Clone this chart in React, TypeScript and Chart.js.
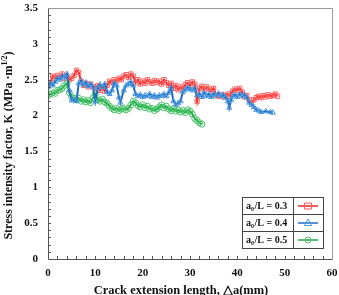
import React, { useEffect, useRef } from "react";
import { Chart, registerables } from "chart.js";

Chart.register(...registerables);

// Crack extension length (mm) and stress intensity factor K for each a0/L ratio
const crack03 = [0.5, 1, 1.5, 2, 2.5, 3, 3.5, 4, 4.5, 5, 5.5, 6, 6.5, 7, 7.5, 8, 8.5, 9, 9.5, 10, 10.5, 11, 11.5, 12, 12.5, 13, 13.5, 14, 14.5, 15, 15.5, 16, 16.5, 17, 17.5, 18, 18.5, 19, 19.5, 20, 20.5, 21, 21.5, 22, 22.5, 23, 23.5, 24, 24.5, 25, 25.5, 26, 26.5, 27, 27.5, 28, 28.5, 29, 29.5, 30, 30.5, 31, 31.5, 32, 32.5, 33, 33.5, 34, 34.5, 35, 35.5, 36, 36.5, 37, 37.5, 38, 38.5, 39, 39.5, 40, 40.5, 41, 41.5, 42, 42.5, 43, 43.5, 44, 44.5, 45, 45.5, 46, 46.5, 47, 47.5, 48, 48.5];
const k03 = [2.45, 2.55, 2.52, 2.56, 2.53, 2.58, 2.52, 2.55, 2.5, 2.52, 2.56, 2.63, 2.6, 2.48, 2.42, 2.45, 2.4, 2.44, 2.4, 2.38, 2.42, 2.35, 2.4, 2.34, 2.42, 2.48, 2.46, 2.5, 2.48, 2.52, 2.5, 2.55, 2.57, 2.53, 2.58, 2.55, 2.46, 2.5, 2.44, 2.48, 2.45, 2.5, 2.47, 2.45, 2.49, 2.46, 2.48, 2.44, 2.5, 2.46, 2.42, 2.45, 2.38, 2.42, 2.36, 2.4, 2.37, 2.43, 2.46, 2.42, 2.47, 2.44, 2.2, 2.38, 2.41, 2.36, 2.4, 2.37, 2.34, 2.38, 2.28, 2.27, 2.29, 2.26, 2.28, 2.3, 2.27, 2.34, 2.37, 2.35, 2.38, 2.33, 2.26, 2.28, 2.22, 2.18, 2.22, 2.25, 2.27, 2.25, 2.28, 2.26, 2.29, 2.27, 2.28, 2.3, 2.27];

const crack04 = [0, 0.5, 1, 1.5, 2, 2.5, 3, 3.5, 4, 4.5, 5, 5.5, 6, 6.5, 7, 7.5, 8, 8.5, 9, 9.5, 10, 10.5, 11, 11.5, 12, 12.5, 13, 13.5, 14, 14.5, 15, 15.3, 16, 16.5, 17, 17.5, 18, 18.5, 19, 19.5, 20, 20.5, 21, 21.5, 22, 22.5, 23, 23.5, 24, 24.5, 25, 25.5, 26, 26.5, 27, 27.5, 28, 28.5, 29, 29.5, 30, 30.5, 31, 31.5, 32, 32.5, 33, 33.5, 34, 34.5, 35, 35.5, 36, 36.5, 37, 37.5, 38, 38.3, 38.7, 39, 39.5, 40, 40.5, 41, 41.5, 42, 42.5, 43, 43.5, 44, 44.5, 45, 46, 47, 47.5];
const k04 = [2.4, 2.45, 2.42, 2.47, 2.52, 2.5, 2.55, 2.53, 2.58, 2.35, 2.21, 2.22, 2.2, 2.45, 2.48, 2.43, 2.46, 2.41, 2.44, 2.4, 2.2, 2.38, 2.43, 2.4, 2.44, 2.33, 2.3, 2.35, 2.45, 2.42, 2.25, 2.18, 2.35, 2.42, 2.44, 2.47, 2.42, 2.3, 2.27, 2.29, 2.26, 2.28, 2.27, 2.3, 2.26, 2.28, 2.25, 2.28, 2.27, 2.3, 2.27, 2.32, 2.39, 2.2, 2.15, 2.17, 2.2, 2.33, 2.36, 2.39, 2.37, 2.35, 2.38, 2.28, 2.3, 2.26, 2.32, 2.27, 2.3, 2.26, 2.3, 2.28, 2.31, 2.27, 2.29, 2.25, 2.2, 2.11, 2.22, 2.27, 2.29, 2.26, 2.3, 2.27, 2.29, 2.25, 2.18, 2.15, 2.12, 2.08, 2.07, 2.05, 2.06, 2.05, 2.04];

const crack05 = [0, 0.5, 1, 1.5, 2, 2.5, 3, 3.5, 4, 4.5, 5, 5.5, 6, 6.5, 7, 7.5, 8, 8.5, 9, 9.5, 10, 10.5, 11, 11.5, 12, 12.5, 13, 13.5, 14, 14.5, 15, 15.5, 16, 16.5, 17, 17.5, 18, 18.5, 19, 19.5, 20, 20.5, 21, 21.5, 22, 22.5, 23, 23.5, 24, 24.5, 25, 25.5, 26, 26.5, 27, 27.5, 28, 28.5, 29, 29.5, 30, 30.5, 31, 31.5, 32, 32.5];
const k05 = [2.28, 2.3, 2.32, 2.31, 2.35, 2.36, 2.38, 2.42, 2.45, 2.32, 2.26, 2.24, 2.22, 2.24, 2.2, 2.22, 2.19, 2.21, 2.18, 2.25, 2.3, 2.22, 2.2, 2.23, 2.19, 2.17, 2.13, 2.1, 2.08, 2.1, 2.07, 2.09, 2.1, 2.08, 2.1, 2.15, 2.2, 2.18, 2.14, 2.12, 2.15, 2.11, 2.13, 2.09, 2.1, 2.07, 2.09, 2.12, 2.15, 2.11, 2.13, 2.09, 2.07, 2.1, 2.06, 2.08, 2.05, 2.07, 2.04, 2.08, 2.06, 2.02, 1.96, 1.93, 1.9, 1.88];

const ratioLabels = ["0.3", "0.4", "0.5"];
const xTickValues = [0, 10, 20, 30, 40, 50, 60];
const yTickValues = [0, 0.5, 1, 1.5, 2, 2.5, 3, 3.5];

const SERIF = "'Liberation Serif', 'Times New Roman', serif";

const seriesStyle = [
  { line: "#f02424", mark: "#ff5c5c", shape: "rect" },
  { line: "#1f6cc4", mark: "#4a98df", shape: "triangle" },
  { line: "#1fa845", mark: "#45c266", shape: "circle" },
];

const toPoints = (xs: number[], ys: number[]) => xs.map((x, i) => ({ x, y: ys[i] }));

const framePlugin = {
  id: "frameAndTicks",
  afterDatasetsDraw(chart: any) {
    const { ctx, chartArea } = chart;
    const { left, right, top, bottom } = chartArea;
    const xs = chart.scales.x;
    const ys = chart.scales.y;
    ctx.save();
    // frame
    ctx.lineWidth = 1;
    ctx.strokeStyle = "#9a9a9a";
    ctx.beginPath();
    ctx.moveTo(left + 0.5, top + 0.5);
    ctx.lineTo(right + 0.5, top + 0.5);
    ctx.lineTo(right + 0.5, bottom + 0.5);
    ctx.stroke();
    ctx.strokeStyle = "#555";
    ctx.beginPath();
    ctx.moveTo(left + 0.5, top + 0.5);
    ctx.lineTo(left + 0.5, bottom + 0.5);
    ctx.lineTo(right + 0.5, bottom + 0.5);
    ctx.stroke();
    // inward ticks
    ctx.strokeStyle = "#555";
    ctx.beginPath();
    for (let i = 1; i < 35; i++) {
      const py = Math.round(ys.getPixelForValue(i / 10)) + 0.5;
      ctx.moveTo(left, py);
      ctx.lineTo(left + 3, py);
    }
    for (let i = 1; i < 30; i++) {
      const px = Math.round(xs.getPixelForValue(i * 2)) + 0.5;
      ctx.moveTo(px, bottom);
      ctx.lineTo(px, bottom - 3);
    }
    ctx.stroke();
    ctx.restore();
  },
  afterDraw(chart: any) {
    const { ctx, chartArea } = chart;
    const { left, right, top, bottom } = chartArea;
    ctx.save();
    ctx.fillStyle = "#111";
    // x title
    ctx.font = `bold 12.5px ${SERIF}`;
    ctx.textAlign = "center";
    ctx.textBaseline = "middle";
    ctx.fillText("Crack extension length, \u25B3a(mm)", (left + right) / 2 - 9, bottom + 32);
    // y title with superscript
    const main = "Stress intensity factor, K (MPa \u00B7m";
    const sup = "1/2";
    const tail = ")";
    ctx.font = `bold 12px ${SERIF}`;
    const wMain = ctx.measureText(main).width;
    const wTail = ctx.measureText(tail).width;
    ctx.font = `bold 8px ${SERIF}`;
    const wSup = ctx.measureText(sup).width;
    const total = wMain + wSup + wTail;
    ctx.translate(9, (top + bottom) / 2 + 12);
    ctx.rotate(-Math.PI / 2);
    ctx.textAlign = "left";
    ctx.textBaseline = "middle";
    let x0 = -total / 2;
    ctx.font = `bold 12px ${SERIF}`;
    ctx.fillText(main, x0, 0);
    x0 += wMain;
    ctx.font = `bold 8px ${SERIF}`;
    ctx.fillText(sup, x0, -4);
    x0 += wSup;
    ctx.font = `bold 12px ${SERIF}`;
    ctx.fillText(tail, x0, 0);
    ctx.restore();

    // legend table
    ctx.save();
    const tRight = right - 9;
    const tBottom = bottom - 11;
    const rowH = 17;
    const w1 = 51;
    const w2 = 30;
    const tLeft = tRight - w1 - w2;
    const tTop = tBottom - rowH * 3;
    ctx.fillStyle = "#fff";
    ctx.fillRect(tLeft, tTop, w1 + w2, rowH * 3);
    ctx.strokeStyle = "#444";
    ctx.lineWidth = 1;
    ctx.strokeRect(tLeft + 0.5, tTop + 0.5, w1 + w2, rowH * 3);
    ctx.beginPath();
    for (let r = 1; r < 3; r++) {
      ctx.moveTo(tLeft, tTop + r * rowH + 0.5);
      ctx.lineTo(tRight, tTop + r * rowH + 0.5);
    }
    ctx.moveTo(tLeft + w1 + 0.5, tTop);
    ctx.lineTo(tLeft + w1 + 0.5, tBottom);
    ctx.stroke();
    ratioLabels.forEach((lab, r) => {
      const cy = tTop + r * rowH + rowH / 2 + 1;
      let cx = tLeft + 4;
      ctx.fillStyle = "#111";
      ctx.textBaseline = "middle";
      ctx.textAlign = "left";
      ctx.font = `bold 10px ${SERIF}`;
      ctx.fillText("a", cx, cy);
      cx += ctx.measureText("a").width;
      ctx.font = `bold 6px ${SERIF}`;
      ctx.fillText("0", cx, cy + 3);
      cx += ctx.measureText("0").width + 0.5;
      ctx.font = `bold 10px ${SERIF}`;
      ctx.fillText("/L = " + lab, cx, cy);
      const st = seriesStyle[r];
      const mx = tLeft + w1 + w2 / 2;
      const my = tTop + r * rowH + rowH / 2 + 0.5;
      ctx.strokeStyle = st.line;
      ctx.lineWidth = 1.5;
      ctx.beginPath();
      ctx.moveTo(mx - 10, my);
      ctx.lineTo(mx + 10, my);
      ctx.stroke();
      ctx.strokeStyle = st.mark;
      ctx.lineWidth = 1;
      ctx.beginPath();
      if (st.shape === "rect") {
        ctx.rect(mx - 3.5, my - 3, 7, 6);
      } else if (st.shape === "triangle") {
        ctx.moveTo(mx, my - 4);
        ctx.lineTo(mx + 3.5, my + 2.5);
        ctx.lineTo(mx - 3.5, my + 2.5);
        ctx.closePath();
      } else {
        ctx.arc(mx, my, 3, 0, Math.PI * 2);
      }
      ctx.stroke();
    });
    ctx.restore();
  },
};

export default function App() {
  const canvasRef = useRef<HTMLCanvasElement | null>(null);

  useEffect(() => {
    if (!canvasRef.current) return;
    const sets = [
      toPoints(crack03, k03),
      toPoints(crack04, k04),
      toPoints(crack05, k05),
    ];
    const orders = [3, 1, 2];
    const chart = new Chart(canvasRef.current, {
      type: "scatter",
      data: {
        datasets: sets.map((pts, i) => ({
          label: "a0/L = " + ratioLabels[i],
          data: pts,
          showLine: true,
          borderColor: seriesStyle[i].line,
          borderWidth: 2,
          pointStyle: seriesStyle[i].shape as any,
          pointRadius: 3,
          pointBorderWidth: 1,
          pointBorderColor: seriesStyle[i].mark,
          pointBackgroundColor: "rgba(255,255,255,0)",
          order: orders[i],
        })),
      },
      options: {
        animation: false,
        responsive: false,
        devicePixelRatio: 1,
        layout: { padding: { left: 0, right: 7, top: 8, bottom: 0 } },
        plugins: { legend: { display: false }, tooltip: { enabled: false } },
        scales: {
          x: {
            type: "linear",
            min: 0,
            max: 60,
            afterBuildTicks: (s: any) => {
              s.ticks = xTickValues.map((v) => ({ value: v }));
            },
            afterFit: (s: any) => {
              s.height = 36;
              s.paddingLeft = 0;
              s.paddingRight = 0;
            },
            grid: { display: false, drawTicks: false },
            border: { display: false },
            ticks: {
              padding: 8,
              color: "#111",
              font: { family: SERIF, size: 11, weight: "bold" },
              callback: (v: any) => String(v),
            },
          },
          y: {
            type: "linear",
            min: 0,
            max: 3.5,
            afterBuildTicks: (s: any) => {
              s.ticks = yTickValues.map((v) => ({ value: v }));
            },
            afterFit: (s: any) => {
              s.width = 48;
              s.paddingTop = 0;
              s.paddingBottom = 0;
            },
            grid: { display: false, drawTicks: false },
            border: { display: false },
            ticks: {
              padding: 10,
              color: "#111",
              font: { family: SERIF, size: 11, weight: "bold" },
              callback: (v: any) => String(v),
            },
          },
        },
      },
      plugins: [framePlugin],
    });
    return () => chart.destroy();
  }, []);

  return (
    <div style={{ position: "absolute", left: 0, top: 0, width: 339, height: 295, background: "#fff" }}>
      <canvas ref={canvasRef} width={339} height={295} style={{ display: "block", width: 339, height: 295 }} />
    </div>
  );
}
